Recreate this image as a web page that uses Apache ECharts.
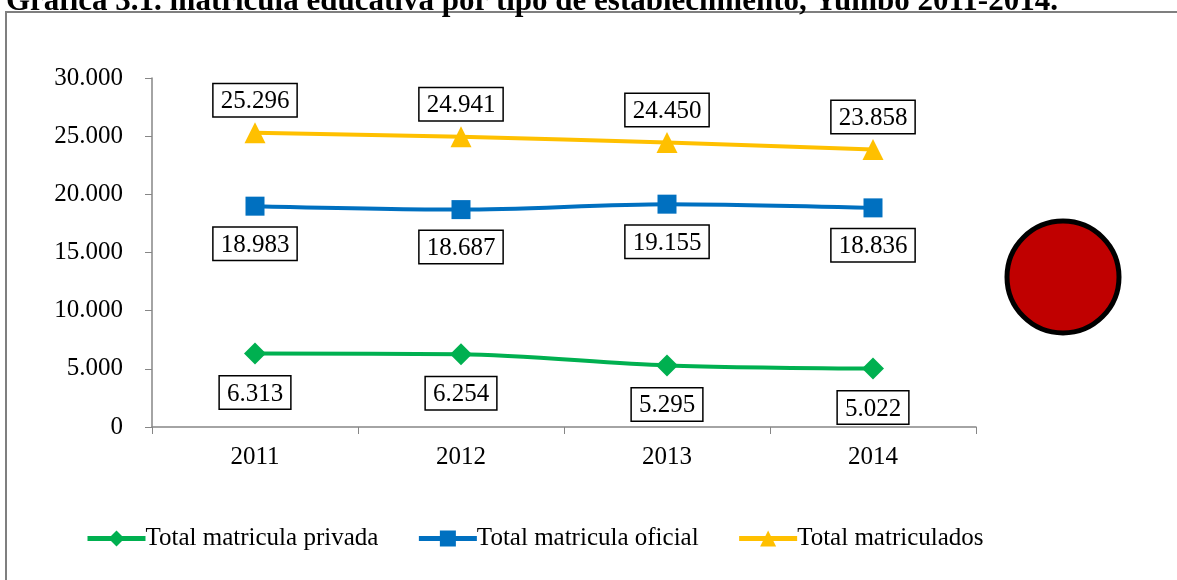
<!DOCTYPE html>
<html>
<head>
<meta charset="utf-8">
<script src="https://cdn.jsdelivr.net/npm/echarts@6/dist/echarts.min.js"></script>
<style>
  html, body { margin: 0; padding: 0; background: #fff; }
  #chart { width: 1177px; height: 580px; }
</style>
</head>
<body>
<div id="chart"></div>
<script>
// datos de la gráfica
const years = ['2011', '2012', '2013', '2014']
const privada = [6313, 6254, 5295, 5022]
const oficial = [18983, 18687, 19155, 18836]
const total = [25296, 24941, 24450, 23858]
const yTicks = [0, 5000, 10000, 15000, 20000, 25000, 30000]

const FONT = '"Liberation Serif", "DejaVu Serif", serif'

const fmt = v => v === 0 ? '0' : v.toLocaleString('de-DE')

const boxLabel = (pos, dist) => ({
  show: true,
  position: pos,
  distance: dist,
  formatter: p => fmt(p.value),
  color: '#000',
  fontFamily: FONT,
  fontSize: 25,
  backgroundColor: '#fff',
  borderColor: '#000',
  borderWidth: 1.5,
  padding: [5, 7, 2, 7]
})

const mkSeries = (name, data, color, symbol, size, label) => ({
  name,
  type: 'line',
  data,
  smooth: 0.3,
  symbol,
  symbolSize: size,
  lineStyle: { color, width: 4 },
  itemStyle: { color },
  label
})

const chart = echarts.init(document.getElementById('chart'))
chart.setOption({
  animation: false,
  backgroundColor: '#fff',
  graphic: [
    {
      type: 'rect',
      shape: { x: 6, y: 12, width: 1200, height: 600 },
      style: { fill: 'none', stroke: '#7f7f7f', lineWidth: 2 },
      z: -1
    },
    {
      type: 'text',
      left: 6,
      top: -14,
      style: {
        text: 'Gráfica 3.1. matrícula educativa por tipo de establecimiento, Yumbo 2011-2014.',
        font: 'bold 31px ' + FONT,
        fill: '#000'
      }
    },
    {
      type: 'circle',
      shape: { cx: 1063, cy: 277, r: 56 },
      style: { fill: '#C00000', stroke: '#000', lineWidth: 5 }
    }
  ],
  grid: { left: 152, top: 78, width: 824, height: 349, containLabel: false },
  legend: {
    bottom: 24,
    left: 80,
    itemWidth: 58,
    itemHeight: 20,
    itemGap: 38,
    lineStyle: { width: 5 },
    textStyle: { fontFamily: FONT, fontSize: 25, color: '#000', padding: [0, 0, 0, -5] },
    data: ['Total matricula privada', 'Total matricula oficial', 'Total matriculados']
  },
  xAxis: {
    type: 'category',
    data: years,
    boundaryGap: true,
    axisLine: { lineStyle: { color: '#868686', width: 1.5 } },
    axisTick: { show: true, length: 7, lineStyle: { color: '#868686' } },
    axisLabel: { fontFamily: FONT, fontSize: 25, color: '#000', margin: 18 }
  },
  yAxis: {
    type: 'value',
    min: yTicks[0],
    max: yTicks[yTicks.length - 1],
    interval: yTicks[1] - yTicks[0],
    axisLine: { show: true, lineStyle: { color: '#868686', width: 1.5 } },
    axisTick: { show: true, length: 7, lineStyle: { color: '#868686' } },
    splitLine: { show: false },
    axisLabel: { fontFamily: FONT, fontSize: 25, color: '#000', margin: 29, formatter: fmt }
  },
  series: [
    mkSeries('Total matricula privada', privada, '#00B050', 'diamond', 22, boxLabel('bottom', 12)),
    mkSeries('Total matricula oficial', oficial, '#0070C0', 'rect', 19, boxLabel('bottom', 12)),
    mkSeries('Total matriculados', total, '#FFC000', 'triangle', 21, boxLabel('top', 6))
  ]
})
</script>
</body>
</html>
